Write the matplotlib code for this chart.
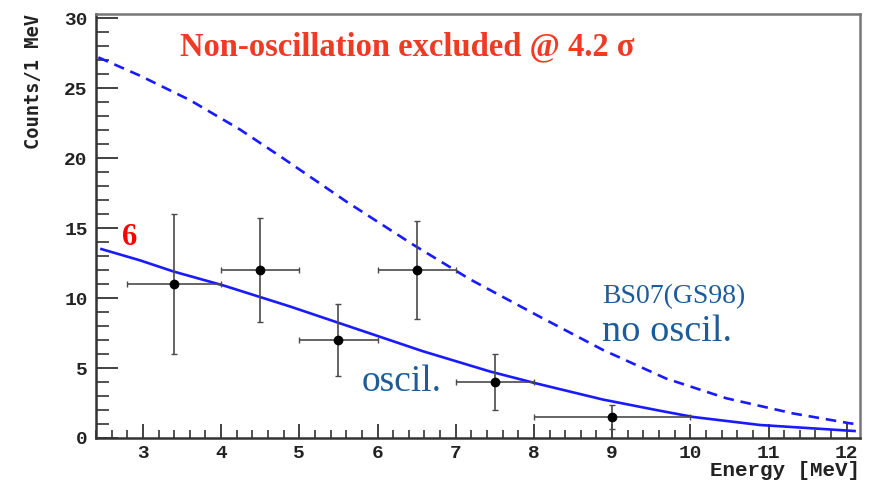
import matplotlib
matplotlib.use("Agg")
import matplotlib.pyplot as plt
from matplotlib.ticker import MultipleLocator

# Data points (energy bins)
energy = [3.4, 4.5, 5.5, 6.5, 7.5, 9.0]
counts = [11.0, 12.0, 7.0, 12.0, 4.0, 1.5]
energy_err = [0.6, 0.5, 0.5, 0.5, 0.5, 1.0]
counts_err = [5.0, 3.7, 2.6, 3.5, 2.0, 0.85]

# Oscillation prediction (solid)
osc_x = [2.47, 2.96, 3.39, 4.03, 4.88, 5.73, 6.58, 7.44, 8.03, 8.88, 9.61, 10.04, 10.89, 12.04, 12.1]
osc_y = [13.5, 12.7, 11.9, 10.9, 9.4, 7.8, 6.2, 4.75, 3.9, 2.75, 1.95, 1.5, 0.93, 0.52, 0.5]

# No-oscillation prediction BS07(GS98) (dashed)
nosc_x = [2.43, 2.96, 3.60, 4.24, 4.79, 5.60, 6.46, 7.18, 8.03, 8.88, 9.69, 10.46, 11.31, 12.04, 12.11]
nosc_y = [27.2, 25.9, 24.15, 22.05, 20.0, 16.9, 13.8, 11.35, 8.8, 6.3, 4.25, 2.84, 1.76, 1.05, 1.0]

x_ticks = [3, 4, 5, 6, 7, 8, 9, 10, 11, 12]
y_ticks = [0, 5, 10, 15, 20, 25, 30]

fig = plt.figure(figsize=(8.7, 4.8), dpi=100)
ax = fig.add_axes([96/870, 1-438/480, (860-96)/870, (438-14)/480])

line_blue = "#1a1aff"
text_blue = "#1d5c99"

ax.plot(nosc_x, nosc_y, color=line_blue, lw=1.9, ls=(0, (4, 2.6)))
ax.plot(osc_x, osc_y, color=line_blue, lw=1.9)
ax.errorbar(energy, counts, xerr=energy_err, yerr=counts_err, fmt='o',
            color='black', ms=6, ecolor='#4a4a4a', elinewidth=1.2,
            capsize=2.5, capthick=1.0)

ax.set_xlim(2.4, 12.17)
ax.set_ylim(0, 30.3)
ax.set_xticks(x_ticks)
ax.set_yticks(y_ticks)
ax.xaxis.set_minor_locator(MultipleLocator(0.2))
ax.yaxis.set_minor_locator(MultipleLocator(1))

mono = ['Liberation Mono', 'DejaVu Sans Mono']
ax.tick_params(axis='both', which='major', direction='in', color='#333333',
               width=1.3, top=False, right=False)
ax.tick_params(axis='y', which='major', length=16, pad=6)
ax.tick_params(axis='y', which='minor', direction='in', length=9, width=1.2, color='#333333', right=False)
ax.tick_params(axis='x', which='major', length=10, pad=5)
ax.tick_params(axis='x', which='minor', direction='in', length=6, width=1.2, color='#333333', top=False)
for lab in ax.get_xticklabels() + ax.get_yticklabels():
    lab.set_fontfamily(mono)
    lab.set_fontweight('bold')
    lab.set_fontsize(14)
    lab.set_color('#222222')

for side in ['left', 'bottom']:
    ax.spines[side].set_color('#333333')
    ax.spines[side].set_linewidth(1.8)
for side in ['top', 'right']:
    ax.spines[side].set_color('#777777')
    ax.spines[side].set_linewidth(1.8)

ax.set_xlabel('Energy [MeV]', loc='right', fontfamily=mono,
              fontweight='bold', fontsize=15, color='#222222', labelpad=-1)
ax.set_ylabel('Counts/1 MeV', loc='top', fontfamily=['DejaVu Sans Mono'],
              fontweight='bold', fontsize=13.5, color='#222222', labelpad=15)

serif = ['Liberation Serif', 'DejaVu Serif']
ax.text(0.408, 0.903, 'Non-oscillation excluded @ 4.2 σ', transform=ax.transAxes,
        ha='center', va='baseline', color='#f03a24', fontsize=23.5,
        fontweight='bold', family=serif)
ax.text(0.034, 0.455, '6', transform=ax.transAxes, ha='left', va='baseline',
        color='#ff0000', fontsize=22, fontweight='bold', family=serif)
ax.text(0.348, 0.111, 'oscil.', transform=ax.transAxes, ha='left', va='baseline',
        color=text_blue, fontsize=27, family=serif)
ax.text(0.662, 0.318, 'BS07(GS98)', transform=ax.transAxes, ha='left', va='baseline',
        color=text_blue, fontsize=20, family=serif)
ax.text(0.662, 0.229, 'no oscil.', transform=ax.transAxes, ha='left', va='baseline',
        color=text_blue, fontsize=27.5, family=serif)

fig.savefig('out.png', dpi=100, facecolor='white')
